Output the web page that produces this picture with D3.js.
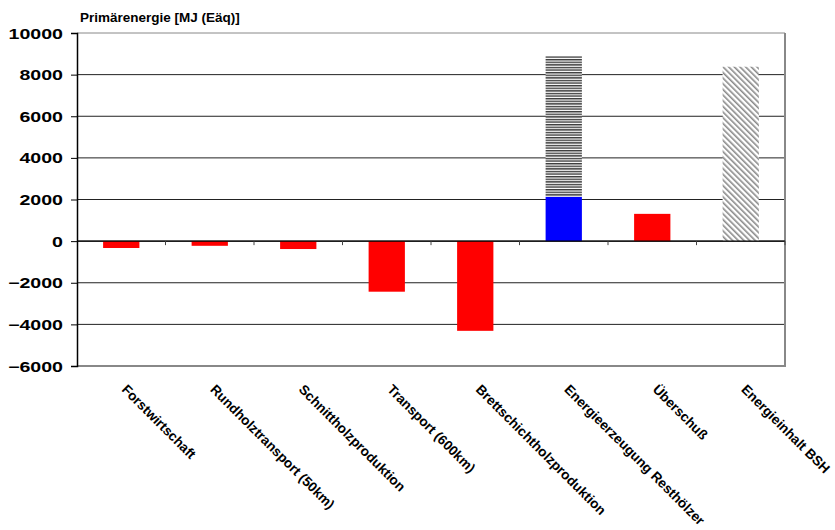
<!DOCTYPE html>
<html>
<head>
<meta charset="utf-8">
<script src="https://cdn.jsdelivr.net/npm/d3@7"></script>
<style>
  body { margin: 0; background: #fff; }
  text { font-family: "Liberation Sans", Arial, sans-serif; font-weight: bold; }
</style>
</head>
<body>
<div id="chart"></div>
<script>
// data
var categories = ["Forstwirtschaft", "Rundholztransport (50km)", "Schnittholzproduktion",
  "Transport (600km)", "Brettschichtholzproduktion", "Energieerzeugung Resthölzer",
  "Überschuß", "Energieinhalt BSH"];
// main bars (red / blue)
var mainValues = [-330, -225, -380, -2430, -4310, 2130, 1310, 0];
// stacked part on top of Energieerzeugung (horizontal hatch)
var stackValues = [0, 0, 0, 0, 0, 6760, 0, 0];
// energy content (diagonal hatch)
var contentValues = [0, 0, 0, 0, 0, 0, 0, 8380];
var yTicks = [-6000, -4000, -2000, 0, 2000, 4000, 6000, 8000, 10000];

var margin = { top: 33, right: 50, bottom: 164, left: 77 },
    width = 835 - margin.left - margin.right,
    height = 530 - margin.top - margin.bottom;

var svg = d3.select("#chart")
  .append("svg")
  .attr("width", 835)
  .attr("height", 530);

var defs = svg.append("defs");

// horizontal stripes
var hp = defs.append("pattern")
  .attr("id", "hstripe")
  .attr("patternUnits", "userSpaceOnUse")
  .attr("width", 6).attr("height", 2.6);
hp.append("rect").attr("width", 6).attr("height", 2.6).attr("fill", "#fff");
hp.append("rect").attr("width", 6).attr("height", 1.4).attr("fill", "#3a3a3a");

// diagonal stripes "\"
var dp = defs.append("pattern")
  .attr("id", "dstripe")
  .attr("patternUnits", "userSpaceOnUse")
  .attr("width", 4).attr("height", 4)
  .attr("patternTransform", "rotate(-45)");
dp.append("rect").attr("width", 4).attr("height", 4).attr("fill", "#fff");
dp.append("rect").attr("width", 1.6).attr("height", 4).attr("fill", "#8a8a8a");

var g = svg.append("g")
  .attr("transform", "translate(" + margin.left + "," + margin.top + ")");

var x = d3.scaleBand()
  .domain(categories)
  .range([0, width])
  .paddingInner(0.59)
  .paddingOuter(0.295);

var y = d3.scaleLinear()
  .domain([-6000, 10000])
  .range([height, 0]);

// gridlines
g.selectAll(".grid")
  .data(yTicks)
  .enter()
  .append("line")
  .attr("x1", 0).attr("x2", width)
  .attr("y1", d => y(d)).attr("y2", d => y(d))
  .attr("stroke", d => (d == 10000 || d == -6000) ? "#888" : "#222")
  .attr("stroke-width", d => (d == -6000) ? 2 : 1);

// right border
g.append("line")
  .attr("x1", width).attr("x2", width)
  .attr("y1", 0).attr("y2", height + 1)
  .attr("stroke", "#888")
  .attr("stroke-width", 2);

// main bars
g.selectAll(".bar")
  .data(categories)
  .enter()
  .append("rect")
  .attr("x", d => x(d))
  .attr("width", x.bandwidth())
  .attr("y", (d, i) => y(Math.max(0, mainValues[i])))
  .attr("height", (d, i) => Math.abs(y(mainValues[i]) - y(0)))
  .attr("fill", (d, i) => i == 5 ? "#0000ff" : "#ff0000");

// stacked hatch
g.selectAll(".stack")
  .data(categories)
  .enter()
  .append("rect")
  .attr("x", d => x(d))
  .attr("width", x.bandwidth())
  .attr("y", (d, i) => y(mainValues[i] + stackValues[i]))
  .attr("height", (d, i) => y(mainValues[i]) - y(mainValues[i] + stackValues[i]))
  .attr("fill", "url(#hstripe)");

// energy content hatch
g.selectAll(".content")
  .data(categories)
  .enter()
  .append("rect")
  .attr("x", d => x(d))
  .attr("width", x.bandwidth())
  .attr("y", (d, i) => y(contentValues[i]))
  .attr("height", (d, i) => y(0) - y(contentValues[i]))
  .attr("fill", "url(#dstripe)");

// zero line with ticks at category boundaries
g.append("line")
  .attr("x1", 0).attr("x2", width)
  .attr("y1", y(0)).attr("y2", y(0))
  .attr("stroke", "#000")
  .attr("stroke-width", 1.3);

g.selectAll(".xtick")
  .data(d3.range(1, categories.length + 1))
  .enter()
  .append("line")
  .attr("x1", d => d * width / categories.length)
  .attr("x2", d => d * width / categories.length)
  .attr("y1", y(0)).attr("y2", y(0) + 4)
  .attr("stroke", "#444");

// y axis
var yAxis = g.append("g")
  .call(d3.axisLeft(y).tickValues(yTicks).tickSize(6).tickFormat(d3.format("d")));
yAxis.select(".domain").attr("stroke", "#000").attr("stroke-width", 1.5);
yAxis.selectAll(".tick line").attr("stroke", "#000");
yAxis.selectAll(".tick text")
  .attr("x", null).attr("dy", null)
  .attr("text-anchor", "end")
  .attr("fill", "#000")
  .style("font-size", "14px")
  .attr("transform", "translate(-14,5) scale(1.4,1)");

// category labels
g.selectAll(".cat")
  .data(categories)
  .enter()
  .append("text")
  .attr("transform", d => "translate(" + (x(d) + x.bandwidth() / 2 + 3) + "," + (height + 21) + ") rotate(45)")
  .attr("dy", "0.35em")
  .style("font-size", "13.6px")
  .text(d => d);

// y title
svg.append("text")
  .attr("x", 80)
  .attr("y", 22)
  .style("font-size", "13.5px")
  .text("Primärenergie [MJ (Eäq)]");
</script>
</body>
</html>
